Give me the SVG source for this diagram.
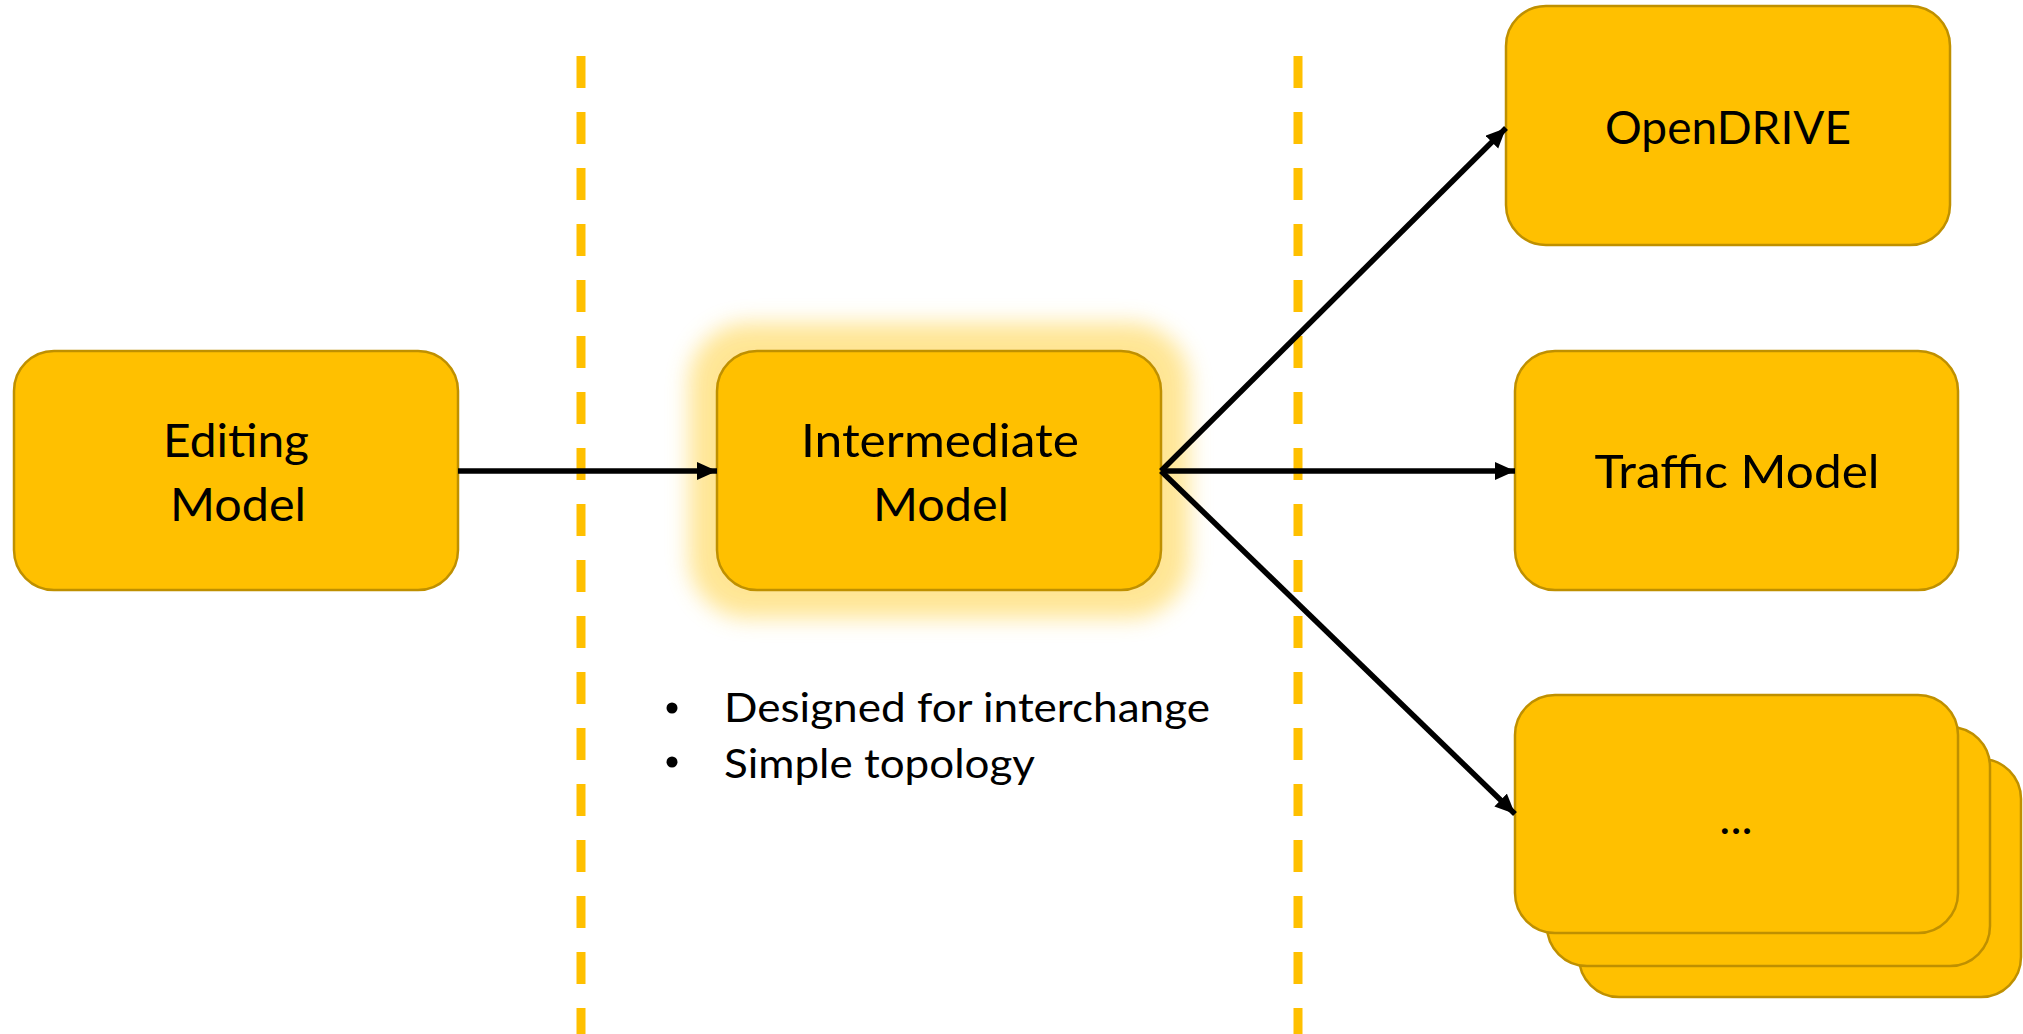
<svg xmlns="http://www.w3.org/2000/svg" width="2023" height="1034" viewBox="0 0 2023 1034">
  <style>
    .box { fill: #FFC000; stroke: #BF9000; stroke-width: 2.5; }
    .label { font-family: Lato, "Open Sans", "Liberation Sans", sans-serif; font-size: 47px; fill: #000; text-anchor: middle; }
    .note { font-family: Lato, "Open Sans", "Liberation Sans", sans-serif; font-size: 40px; fill: #000; }
    .divider { stroke: #FFC000; stroke-width: 9; stroke-dasharray: 32 24; fill: none; }
    .edge { stroke: #000; stroke-width: 5.5; fill: none; marker-end: url(#arrow); }
  </style>
  <defs>
    <marker id="arrow" markerUnits="userSpaceOnUse" markerWidth="22" markerHeight="20" refX="20" refY="9" orient="auto">
      <path d="M0,0 L20,9 L0,18 Z" fill="#000"/>
    </marker>
    <filter id="glow" x="-25%" y="-40%" width="150%" height="180%">
      <feGaussianBlur stdDeviation="11"/>
    </filter>
  </defs>

  <rect width="2023" height="1034" fill="#fff"/>

  <!-- stage dividers -->
  <g id="dividers">
    <line class="divider" x1="581" y1="56" x2="581" y2="1040"/>
    <line class="divider" x1="1298" y1="56" x2="1298" y2="1040"/>
  </g>

  <g id="editing-model">
    <rect class="box" x="14" y="351" width="444" height="239" rx="40" ry="40"/>
    <text class="label" x="236" y="457" textLength="146" lengthAdjust="spacingAndGlyphs">Editing</text>
    <text class="label" x="238" y="521" textLength="136" lengthAdjust="spacingAndGlyphs">Model</text>
  </g>

  <g id="intermediate-model">
    <!-- soft highlight behind the box -->
    <rect x="689" y="323" width="500" height="295" rx="60" ry="60" fill="#FFE389" opacity="0.9" filter="url(#glow)"/>
    <rect class="box" x="717" y="351" width="444" height="239" rx="40" ry="40"/>
    <text class="label" x="940" y="457" textLength="278" lengthAdjust="spacingAndGlyphs">Intermediate</text>
    <text class="label" x="941" y="521" textLength="136" lengthAdjust="spacingAndGlyphs">Model</text>
  </g>

  <g id="intermediate-notes">
    <circle cx="672" cy="708" r="5.5" fill="#000"/>
    <circle cx="672" cy="762" r="5.5" fill="#000"/>
    <text class="note" x="724" y="722" textLength="486" lengthAdjust="spacingAndGlyphs">Designed for interchange</text>
    <text class="note" x="724" y="778" textLength="311" lengthAdjust="spacingAndGlyphs">Simple topology</text>
  </g>

  <g id="opendrive">
    <rect class="box" x="1506" y="6" width="444" height="239" rx="40" ry="40"/>
    <text class="label" x="1728" y="144" textLength="246" lengthAdjust="spacingAndGlyphs">OpenDRIVE</text>
  </g>

  <g id="traffic-model">
    <rect class="box" x="1515" y="351" width="443" height="239" rx="40" ry="40"/>
    <text class="label" x="1737" y="488" textLength="285" lengthAdjust="spacingAndGlyphs">Traffic Model</text>
  </g>

  <g id="other-formats">
    <rect class="box" x="1579" y="759" width="442" height="238" rx="40" ry="40"/>
    <rect class="box" x="1547" y="727" width="443" height="239" rx="40" ry="40"/>
    <rect class="box" x="1515" y="695" width="443" height="238" rx="40" ry="40"/>
    <text class="label" x="1736" y="834">...</text>
  </g>

  <g id="connectors">
    <line class="edge" x1="458" y1="471" x2="717" y2="471"/>
    <line class="edge" x1="1161" y1="471" x2="1506" y2="128"/>
    <line class="edge" x1="1161" y1="471" x2="1515" y2="471"/>
    <line class="edge" x1="1161" y1="471" x2="1515" y2="814"/>
  </g>
</svg>
